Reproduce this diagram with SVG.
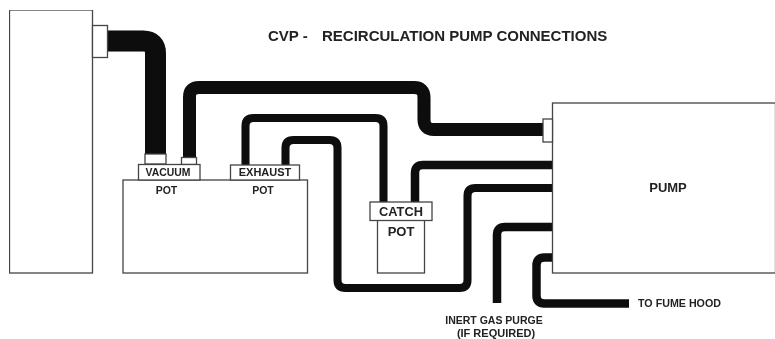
<svg xmlns="http://www.w3.org/2000/svg" width="775" height="339" viewBox="0 0 775 339">
<style>
.b{fill:#fff;stroke:#444;stroke-width:1.3}
.p{fill:none;stroke:#0a0a0a;stroke-linejoin:round}
.t{font-family:"Liberation Sans",Arial,sans-serif;font-weight:bold;fill:#222;text-anchor:middle}
.l{text-anchor:start}
</style>
<defs><filter id="soft" x="0" y="0" width="100%" height="100%"><feGaussianBlur stdDeviation="0.35"/></filter></defs>
<rect width="775" height="339" fill="#fff"/>
<g filter="url(#soft)">
<g id="connectors">
<path class="p" stroke-width="21" d="M107 41H143Q155.500 41 155.500 53.500V155"/>
<path class="p" stroke-width="13" d="M189.500 158V97Q189.500 87.500 199 87.500H414Q424 87.500 424 97.500V119.500Q424 129.500 434 129.500H544"/>
<path class="p" stroke-width="8" d="M245.500 165V126Q245.500 118 253.500 118H375.500Q383.500 118 383.500 126V203"/>
<path class="p" stroke-width="8" d="M285.500 165V148Q285.500 140 293.500 140H329.500Q337.500 140 337.500 148V280Q337.500 288 345.500 288H459.500Q467.500 288 467.500 280V196Q467.500 188 475.500 188H552"/>
<path class="p" stroke-width="8.500" d="M415 203V173Q415 165 423 165H552"/>
<path class="p" stroke-width="8.500" d="M497 303V235Q497 227 505 227H552"/>
<path class="p" stroke-width="8.500" d="M552 257.500H544.500Q536.500 257.500 536.500 265.500V295.500Q536.500 303.500 544.500 303.500H629"/>
</g>
<g id="tank"><rect class="b" x="9.500" y="10" width="83" height="263"/></g>
<g id="tank-port"><rect class="b" x="92.500" y="25.500" width="15" height="32"/></g>
<g id="pot">
<rect class="b" x="123" y="180" width="184.500" height="93"/>
<text class="t" x="166.500" y="194" font-size="10.500">POT</text>
<text class="t" x="263" y="194" font-size="10.500">POT</text>
</g>
<g id="vacuum">
<rect class="b" x="145" y="154" width="21" height="10"/>
<rect class="b" x="181.500" y="157.500" width="15" height="7"/>
<rect class="b" x="138.500" y="164.500" width="61.500" height="15.500"/>
<text class="t" x="168" y="176" font-size="10.400">VACUUM</text>
</g>
<g id="exhaust">
<rect class="b" x="230.500" y="165" width="69" height="15"/>
<text class="t" x="265" y="176" font-size="11">EXHAUST</text>
</g>
<g id="catch-pot">
<rect class="b" x="377.500" y="220" width="47" height="53"/>
<text class="t" x="401" y="235.500" font-size="13">POT</text>
</g>
<g id="catch">
<rect class="b" x="370" y="202" width="62" height="18.500"/>
<text class="t" x="401" y="215.500" font-size="12.800">CATCH</text>
</g>
<g id="pump">
<rect class="b" x="552.500" y="103" width="223" height="170"/>
<text class="t" x="668" y="191.500" font-size="13">PUMP</text>
</g>
<g id="pump-port"><rect class="b" x="543" y="119" width="9.500" height="23"/></g>
<g id="labels">
<text class="t l" x="268" y="40.500" font-size="15">CVP -</text>
<text class="t l" x="322" y="40.500" font-size="15">RECIRCULATION PUMP CONNECTIONS</text>
<text class="t" x="679.500" y="306.500" font-size="10.700">TO FUME HOOD</text>
<text class="t" x="494" y="323.500" font-size="10.500">INERT GAS PURGE</text>
<text class="t" x="496" y="337" font-size="11">(IF REQUIRED)</text>
</g>
</g>
</svg>
